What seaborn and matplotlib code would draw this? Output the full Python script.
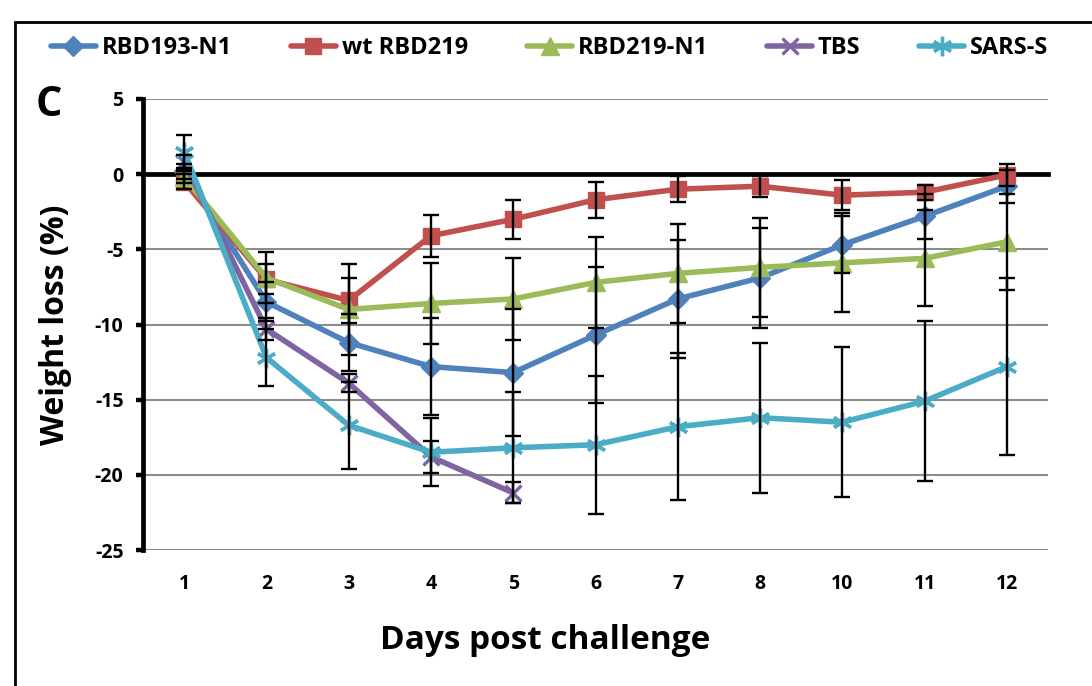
import numpy as np
import pandas as pd
import matplotlib
matplotlib.use("Agg")
import matplotlib.pyplot as plt
import seaborn as sns
from matplotlib.patches import Rectangle

# ---------------- data ----------------
days = ['1', '2', '3', '4', '5', '6', '7', '8', '10', '11', '12']
groups = ['RBD193-N1', 'wt RBD219', 'RBD219-N1', 'TBS', 'SARS-S']

rbd193_n1 = [0.2, -8.5, -11.2, -12.8, -13.2, -10.7, -8.3, -6.9, -4.7, -2.8, -0.8]
rbd193_n1_err = [0.5, 1.3, 1.9, 3.2, 4.2, 4.5, 3.9, 3.3, 1.9, 1.5, 1.1]

wt_rbd219 = [-0.5, -7.0, -8.4, -4.1, -3.0, -1.7, -1.0, -0.8, -1.4, -1.2, -0.05]
wt_rbd219_err = [0.5, 1.0, 1.5, 1.4, 1.3, 1.2, 0.85, 0.7, 1.0, 0.5, 0.75]

rbd219_n1 = [-0.2, -6.9, -9.0, -8.6, -8.3, -7.2, -6.6, -6.2, -5.9, -5.6, -4.5]
rbd219_n1_err = [0.4, 1.7, 3.0, 2.7, 2.7, 3.0, 3.3, 3.3, 3.3, 3.2, 3.2]

tbs = [0.8, -10.3, -13.9, -18.8, -21.2]
tbs_err = [0.5, 0.7, 0.6, 1.05, 0.7]

sars_s = [1.5, -12.2, -16.7, -18.5, -18.2, -18.0, -16.8, -16.2, -16.5, -15.1, -12.8]
sars_s_err = [1.1, 1.9, 2.9, 2.25, 3.7, 4.6, 4.9, 5.0, 5.0, 5.3, 5.9]

y_ticks = [5, 0, -5, -10, -15, -20, -25]

colors = {'RBD193-N1': '#4F81BD', 'wt RBD219': '#C0504D', 'RBD219-N1': '#9BBB59',
          'TBS': '#8064A2', 'SARS-S': '#4BACC6'}
markers = {'RBD193-N1': 'D', 'wt RBD219': 's', 'RBD219-N1': '^',
           'TBS': 'x', 'SARS-S': (6, 2, 0)}
msizes = {'RBD193-N1': 10, 'wt RBD219': 12, 'RBD219-N1': 12.5, 'TBS': 12, 'SARS-S': 14}

series = {'RBD193-N1': (rbd193_n1, rbd193_n1_err),
          'wt RBD219': (wt_rbd219, wt_rbd219_err),
          'RBD219-N1': (rbd219_n1, rbd219_n1_err),
          'TBS': (tbs, tbs_err),
          'SARS-S': (sars_s, sars_s_err)}

rows = []
for g in groups:
    vals, errs = series[g]
    for i, (v, e) in enumerate(zip(vals, errs)):
        rows.append({'pos': i, 'day': days[i], 'value': v, 'err': e, 'group': g})
df = pd.DataFrame(rows)

# ---------------- style ----------------
sns.set_style("white")
plt.rcParams['font.family'] = ['Open Sans', 'DejaVu Sans']
plt.rcParams['font.weight'] = 'bold'
plt.rcParams['text.color'] = 'black'
plt.rcParams['axes.labelcolor'] = 'black'
plt.rcParams['xtick.color'] = 'black'
plt.rcParams['ytick.color'] = 'black'

fig = plt.figure(figsize=(10.92, 6.86), dpi=100)
ax = fig.add_axes([143 / 1092, 1 - 550 / 686, (1048 - 143) / 1092, (550 - 99) / 686])

for g in groups:
    sub = df[df.group == g]
    unfilled = markers[g] in ('x', (6, 2, 0))
    sns.lineplot(data=sub, x='pos', y='value', color=colors[g], marker=markers[g],
                 markersize=msizes[g], lw=4, label=g, ax=ax, zorder=3,
                 markeredgecolor=colors[g], markeredgewidth=2.4 if unfilled else 1.0)

for g in groups:
    sub = df[df.group == g]
    ax.errorbar(sub['pos'], sub['value'], yerr=sub['err'], fmt='none',
                ecolor='black', elinewidth=1.7, capsize=5.5, capthick=1.7, zorder=4)

# axes
ax.set_xlim(-0.5, 10.5)
ax.set_ylim(-25, 5)
ax.set_yticks(y_ticks)
ax.set_yticklabels([str(t) for t in y_ticks])
ax.yaxis.grid(True, color='#8c8c8c', lw=1.5)
ax.set_axisbelow(True)
for s in ['top', 'right']:
    ax.spines[s].set_visible(False)
ax.spines['left'].set_linewidth(3.4)
ax.spines['left'].set_color('black')
ax.spines['bottom'].set_position(('data', 0))
ax.spines['bottom'].set_linewidth(3.4)
ax.spines['bottom'].set_color('black')
ax.spines['bottom'].set_zorder(2.5)

ax.set_xticks(range(len(days)))
ax.set_xticks(np.arange(0.5, len(days), 1.0), minor=True)
ax.tick_params(axis='x', which='major', length=0, labelbottom=False)
ax.tick_params(axis='x', which='minor', direction='out', length=5, width=3.2, color='black')
ax.tick_params(axis='y', direction='out', length=5, width=3.2, color='black',
               labelsize=14, pad=9, labelcolor='black')
ax.tick_params(left=True)
for t in ax.get_yticklabels():
    t.set_fontweight('bold')

sec = ax.secondary_xaxis('bottom')
sec.set_xticks(range(len(days)), labels=days)
sec.tick_params(length=0, pad=17, labelsize=14, labelcolor='black')
sec.spines['bottom'].set_visible(False)
for t in sec.get_xticklabels():
    t.set_fontweight('bold')

ax.set_xlabel('Days post challenge', fontsize=24, fontweight='bold', color='black')
ax.xaxis.set_label_coords(0.444, -0.2)
ax.xaxis.label.set_va('center')
ax.set_ylabel('Weight loss (%)', fontsize=23, fontweight='bold', color='black')
ax.yaxis.set_label_coords(-0.097, 0.5)
ax.yaxis.label.set_va('center')

# legend
handles, labels = ax.get_legend_handles_labels()
if ax.get_legend() is not None:
    ax.get_legend().remove()
leg = fig.legend(handles, labels, loc='center left', bbox_to_anchor=(51 / 1092, 1 - 48 / 686),
                 ncol=5, frameon=False, prop={'size': 17, 'weight': 'bold'},
                 handlelength=1.9, handletextpad=0.25, columnspacing=2.5,
                 borderaxespad=0, borderpad=0)
for t in leg.get_texts():
    t.set_color('black')

fig.text(36 / 1092, 1 - 105 / 686, 'C', fontsize=30, fontweight='bold', va='center',
         ha='left', color='black')

fig.patches.append(Rectangle((15 / 1092, -0.2), 2.0, 1 - 22 / 686 + 0.2,
                             transform=fig.transFigure, fill=False,
                             edgecolor='black', lw=2, zorder=10))

fig.savefig('out.png', dpi=100)
